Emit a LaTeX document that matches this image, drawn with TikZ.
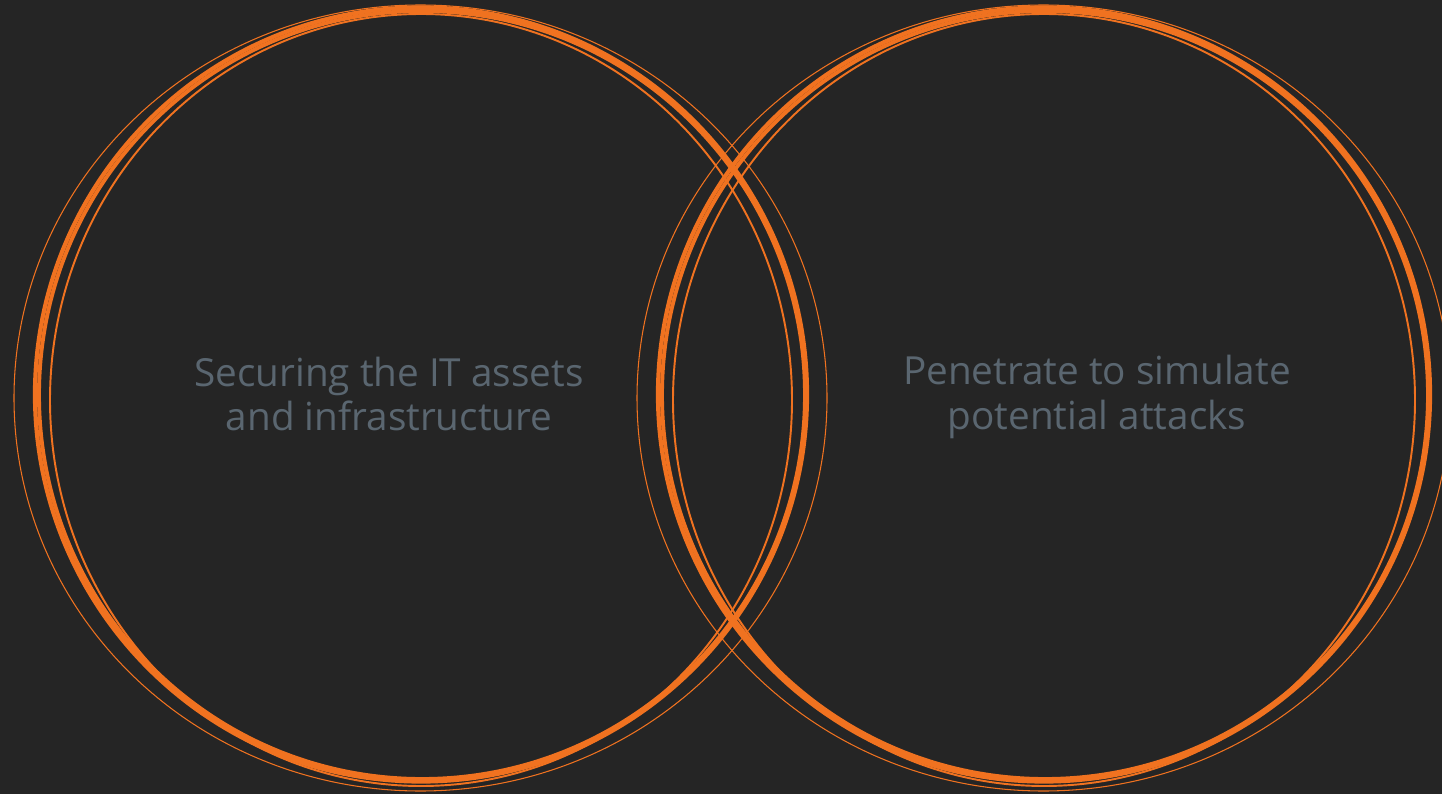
\documentclass[tikz,border=0pt]{standalone}
\usepackage{fontspec}
\setmainfont{Open Sans}
\usepackage{tikz}
\definecolor{bgdark}{RGB}{37,37,37}
\definecolor{sketchorange}{RGB}{240,114,32}
\definecolor{labelgrey}{RGB}{90,102,112}
\tikzset{
    sketch/.style={draw=sketchorange},
    label text/.style={text=labelgrey, align=center,
        font=\fontsize{11}{12.7}\selectfont}
}
\newcommand{\sketchcircle}[1]{%
    \begin{scope}[shift={(#1,0)}]
        \draw[sketch, line width=1.2pt] (421,394.5) ellipse [x radius=386, y radius=387];
        \draw[sketch, line width=1.1pt] (422,395) ellipse [x radius=383, y radius=384];
        \draw[sketch, line width=.55pt] (421,400) ellipse [x radius=371, y radius=386];
        \draw[sketch, line width=.3pt] (420.5,398) ellipse [x radius=406.5, y radius=393];
    \end{scope}}

\begin{document}
\begin{tikzpicture}[x=0.01cm, y=-0.01cm]
    \useasboundingbox (0,0) rectangle (1442,794);
    \fill[bgdark] (0,0) rectangle (1442,794);
    \clip (0,0) rectangle (1442,794);
    \sketchcircle{0}
    \sketchcircle{623}
    \node (secure) [label text] at (389,394) {Securing the IT assets\\and infrastructure};
    \node (pentest) [label text] at (1097,397) {Penetrate to simulate\\potential attacks};
\end{tikzpicture}
\end{document}
